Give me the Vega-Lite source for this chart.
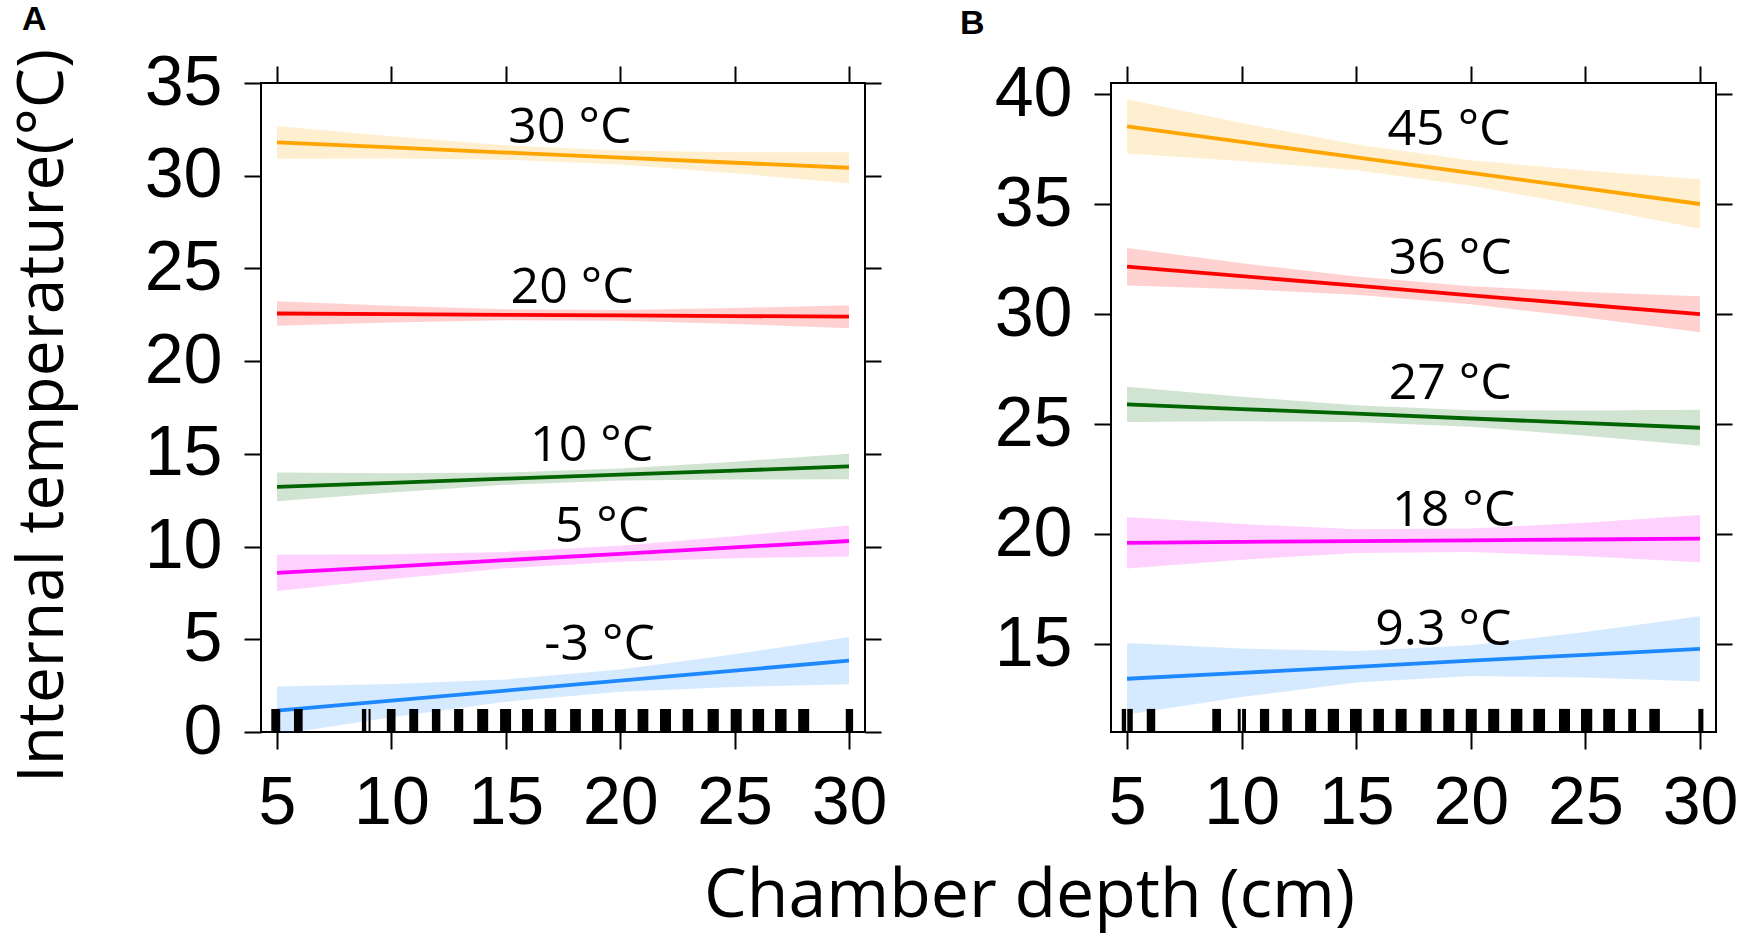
{
  "$schema": "https://vega.github.io/schema/vega-lite/v6.json",
  "autosize": {"type": "none"},
  "padding": {"left": 261, "top": 83, "right": 1480, "bottom": 858},
  "background": "white",
  "datasets": {
    "fits": [
      {"panel": "A", "series": "30 °C", "depth": 5, "fit": 31.80, "lo": 30.92, "hi": 32.68},
      {"panel": "A", "series": "30 °C", "depth": 10, "fit": 31.53, "lo": 30.93, "hi": 32.13},
      {"panel": "A", "series": "30 °C", "depth": 15, "fit": 31.25, "lo": 30.86, "hi": 31.64},
      {"panel": "A", "series": "30 °C", "depth": 20, "fit": 30.98, "lo": 30.60, "hi": 31.36},
      {"panel": "A", "series": "30 °C", "depth": 25, "fit": 30.70, "lo": 30.13, "hi": 31.27},
      {"panel": "A", "series": "30 °C", "depth": 30, "fit": 30.43, "lo": 29.60, "hi": 31.26},
      {"panel": "A", "series": "20 °C", "depth": 5, "fit": 22.57, "lo": 21.91, "hi": 23.23},
      {"panel": "A", "series": "20 °C", "depth": 10, "fit": 22.54, "lo": 22.09, "hi": 22.99},
      {"panel": "A", "series": "20 °C", "depth": 15, "fit": 22.50, "lo": 22.20, "hi": 22.80},
      {"panel": "A", "series": "20 °C", "depth": 20, "fit": 22.47, "lo": 22.18, "hi": 22.76},
      {"panel": "A", "series": "20 °C", "depth": 25, "fit": 22.43, "lo": 22.00, "hi": 22.86},
      {"panel": "A", "series": "20 °C", "depth": 30, "fit": 22.40, "lo": 21.78, "hi": 23.02},
      {"panel": "A", "series": "10 °C", "depth": 5, "fit": 13.22, "lo": 12.45, "hi": 13.99},
      {"panel": "A", "series": "10 °C", "depth": 10, "fit": 13.44, "lo": 12.92, "hi": 13.96},
      {"panel": "A", "series": "10 °C", "depth": 15, "fit": 13.66, "lo": 13.33, "hi": 13.99},
      {"panel": "A", "series": "10 °C", "depth": 20, "fit": 13.88, "lo": 13.56, "hi": 14.21},
      {"panel": "A", "series": "10 °C", "depth": 25, "fit": 14.10, "lo": 13.62, "hi": 14.58},
      {"panel": "A", "series": "10 °C", "depth": 30, "fit": 14.32, "lo": 13.63, "hi": 15.01},
      {"panel": "A", "series": "5 °C", "depth": 5, "fit": 8.58, "lo": 7.60, "hi": 9.56},
      {"panel": "A", "series": "5 °C", "depth": 10, "fit": 8.92, "lo": 8.25, "hi": 9.59},
      {"panel": "A", "series": "5 °C", "depth": 15, "fit": 9.27, "lo": 8.83, "hi": 9.71},
      {"panel": "A", "series": "5 °C", "depth": 20, "fit": 9.61, "lo": 9.18, "hi": 10.04},
      {"panel": "A", "series": "5 °C", "depth": 25, "fit": 9.96, "lo": 9.37, "hi": 10.55},
      {"panel": "A", "series": "5 °C", "depth": 30, "fit": 10.30, "lo": 9.47, "hi": 11.13},
      {"panel": "A", "series": "-3 °C", "depth": 5, "fit": 1.15, "lo": -0.15, "hi": 2.45},
      {"panel": "A", "series": "-3 °C", "depth": 10, "fit": 1.69, "lo": 0.79, "hi": 2.59},
      {"panel": "A", "series": "-3 °C", "depth": 15, "fit": 2.23, "lo": 1.63, "hi": 2.83},
      {"panel": "A", "series": "-3 °C", "depth": 20, "fit": 2.77, "lo": 2.17, "hi": 3.37},
      {"panel": "A", "series": "-3 °C", "depth": 25, "fit": 3.31, "lo": 2.43, "hi": 4.19},
      {"panel": "A", "series": "-3 °C", "depth": 30, "fit": 3.85, "lo": 2.58, "hi": 5.12},
      {"panel": "B", "series": "45 °C", "depth": 5, "fit": 38.53, "lo": 37.30, "hi": 39.76},
      {"panel": "B", "series": "45 °C", "depth": 10, "fit": 37.82, "lo": 36.96, "hi": 38.68},
      {"panel": "B", "series": "45 °C", "depth": 15, "fit": 37.12, "lo": 36.53, "hi": 37.71},
      {"panel": "B", "series": "45 °C", "depth": 20, "fit": 36.41, "lo": 35.83, "hi": 36.99},
      {"panel": "B", "series": "45 °C", "depth": 25, "fit": 35.71, "lo": 34.90, "hi": 36.52},
      {"panel": "B", "series": "45 °C", "depth": 30, "fit": 35.00, "lo": 33.87, "hi": 36.13},
      {"panel": "B", "series": "36 °C", "depth": 5, "fit": 32.15, "lo": 31.30, "hi": 33.00},
      {"panel": "B", "series": "36 °C", "depth": 10, "fit": 31.72, "lo": 31.13, "hi": 32.31},
      {"panel": "B", "series": "36 °C", "depth": 15, "fit": 31.29, "lo": 30.88, "hi": 31.70},
      {"panel": "B", "series": "36 °C", "depth": 20, "fit": 30.85, "lo": 30.44, "hi": 31.26},
      {"panel": "B", "series": "36 °C", "depth": 25, "fit": 30.42, "lo": 29.84, "hi": 31.00},
      {"panel": "B", "series": "36 °C", "depth": 30, "fit": 29.99, "lo": 29.17, "hi": 30.81},
      {"panel": "B", "series": "27 °C", "depth": 5, "fit": 25.89, "lo": 25.09, "hi": 26.69},
      {"panel": "B", "series": "27 °C", "depth": 10, "fit": 25.68, "lo": 25.12, "hi": 26.24},
      {"panel": "B", "series": "27 °C", "depth": 15, "fit": 25.47, "lo": 25.09, "hi": 25.85},
      {"panel": "B", "series": "27 °C", "depth": 20, "fit": 25.25, "lo": 24.87, "hi": 25.63},
      {"panel": "B", "series": "27 °C", "depth": 25, "fit": 25.04, "lo": 24.47, "hi": 25.61},
      {"panel": "B", "series": "27 °C", "depth": 30, "fit": 24.83, "lo": 24.01, "hi": 25.65},
      {"panel": "B", "series": "18 °C", "depth": 5, "fit": 19.60, "lo": 18.43, "hi": 20.77},
      {"panel": "B", "series": "18 °C", "depth": 10, "fit": 19.64, "lo": 18.83, "hi": 20.45},
      {"panel": "B", "series": "18 °C", "depth": 15, "fit": 19.68, "lo": 19.14, "hi": 20.22},
      {"panel": "B", "series": "18 °C", "depth": 20, "fit": 19.71, "lo": 19.18, "hi": 20.25},
      {"panel": "B", "series": "18 °C", "depth": 25, "fit": 19.75, "lo": 18.99, "hi": 20.51},
      {"panel": "B", "series": "18 °C", "depth": 30, "fit": 19.79, "lo": 18.72, "hi": 20.86},
      {"panel": "B", "series": "9.3 °C", "depth": 5, "fit": 13.42, "lo": 11.80, "hi": 15.04},
      {"panel": "B", "series": "9.3 °C", "depth": 10, "fit": 13.69, "lo": 12.59, "hi": 14.79},
      {"panel": "B", "series": "9.3 °C", "depth": 15, "fit": 13.96, "lo": 13.25, "hi": 14.68},
      {"panel": "B", "series": "9.3 °C", "depth": 20, "fit": 14.24, "lo": 13.54, "hi": 14.94},
      {"panel": "B", "series": "9.3 °C", "depth": 25, "fit": 14.51, "lo": 13.48, "hi": 15.54},
      {"panel": "B", "series": "9.3 °C", "depth": 30, "fit": 14.78, "lo": 13.30, "hi": 16.26}
    ],
    "rugs": [
      {"panel": "A", "from": 4.75, "to": 5.14},
      {"panel": "A", "from": 5.74, "to": 6.12},
      {"panel": "A", "from": 8.71, "to": 8.90},
      {"panel": "A", "from": 9.00, "to": 9.09},
      {"panel": "A", "from": 9.80, "to": 10.18},
      {"panel": "A", "from": 10.78, "to": 11.17},
      {"panel": "A", "from": 11.77, "to": 12.14},
      {"panel": "A", "from": 12.74, "to": 13.14},
      {"panel": "A", "from": 13.75, "to": 14.23},
      {"panel": "A", "from": 14.75, "to": 15.23},
      {"panel": "A", "from": 15.71, "to": 16.19},
      {"panel": "A", "from": 16.70, "to": 17.20},
      {"panel": "A", "from": 17.81, "to": 18.28},
      {"panel": "A", "from": 18.77, "to": 19.25},
      {"panel": "A", "from": 19.77, "to": 20.25},
      {"panel": "A", "from": 20.76, "to": 21.23},
      {"panel": "A", "from": 21.74, "to": 22.22},
      {"panel": "A", "from": 22.73, "to": 23.19},
      {"panel": "A", "from": 23.82, "to": 24.31},
      {"panel": "A", "from": 24.83, "to": 25.31},
      {"panel": "A", "from": 25.79, "to": 26.29},
      {"panel": "A", "from": 26.77, "to": 27.27},
      {"panel": "A", "from": 27.78, "to": 28.26},
      {"panel": "A", "from": 29.86, "to": 30.18},
      {"panel": "B", "from": 4.77, "to": 4.96},
      {"panel": "B", "from": 5.01, "to": 5.25},
      {"panel": "B", "from": 5.86, "to": 6.23},
      {"panel": "B", "from": 8.72, "to": 9.10},
      {"panel": "B", "from": 9.83, "to": 9.96},
      {"panel": "B", "from": 10.02, "to": 10.19},
      {"panel": "B", "from": 10.80, "to": 11.20},
      {"panel": "B", "from": 11.78, "to": 12.19},
      {"panel": "B", "from": 12.77, "to": 13.25},
      {"panel": "B", "from": 13.76, "to": 14.25},
      {"panel": "B", "from": 14.73, "to": 15.24},
      {"panel": "B", "from": 15.75, "to": 16.21},
      {"panel": "B", "from": 16.72, "to": 17.20},
      {"panel": "B", "from": 17.81, "to": 18.29},
      {"panel": "B", "from": 18.80, "to": 19.28},
      {"panel": "B", "from": 19.78, "to": 20.26},
      {"panel": "B", "from": 20.76, "to": 21.24},
      {"panel": "B", "from": 21.75, "to": 22.25},
      {"panel": "B", "from": 22.73, "to": 23.24},
      {"panel": "B", "from": 23.85, "to": 24.33},
      {"panel": "B", "from": 24.81, "to": 25.30},
      {"panel": "B", "from": 25.78, "to": 26.29},
      {"panel": "B", "from": 26.87, "to": 27.21},
      {"panel": "B", "from": 27.79, "to": 28.25},
      {"panel": "B", "from": 29.93, "to": 30.15}
    ],
    "labels": [
      {"panel": "A", "depth": 17.8, "temp": 31.75, "label": "30 °C"},
      {"panel": "A", "depth": 17.9, "temp": 23.13, "label": "20 °C"},
      {"panel": "A", "depth": 18.75, "temp": 14.59, "label": "10 °C"},
      {"panel": "A", "depth": 19.2, "temp": 10.23, "label": "5 °C"},
      {"panel": "A", "depth": 19.1, "temp": 3.87, "label": "-3 °C"},
      {"panel": "B", "depth": 19.05, "temp": 37.69, "label": "45 °C"},
      {"panel": "B", "depth": 19.1, "temp": 31.81, "label": "36 °C"},
      {"panel": "B", "depth": 19.1, "temp": 26.15, "label": "27 °C"},
      {"panel": "B", "depth": 19.25, "temp": 20.38, "label": "18 °C"},
      {"panel": "B", "depth": 18.8, "temp": 14.97, "label": "9.3 °C"}
    ]
  },
  "bounds": "flush",
  "spacing": 246,
  "resolve": {"scale": {"x": "independent", "y": "independent", "color": "independent"}},
  "hconcat": [
    {
      "width": 604,
      "height": 649,
      "title": {"text": "A", "anchor": "start", "frame": "group", "dx": -239, "dy": 34, "offset": 18, "baseline": "alphabetic",
        "font": "Liberation Sans", "fontSize": 34, "fontWeight": "bold", "color": "black"},
      "layer": [
        {
          "data": {"name": "fits"},
          "transform": [{"filter": "datum.panel === 'A'"}],
          "mark": {"type": "area", "opacity": 0.18, "clip": true},
          "encoding": {
            "x": {"field": "depth", "type": "quantitative", "scale": {"domain": [4.3, 30.7], "nice": false, "zero": false},
              "axis": {"orient": "bottom", "values": [5, 10, 15, 20, 25, 30], "labelFontSize": 68, "labelPadding": 20,
                "title": "Chamber depth (cm)", "titleFontSize": 68, "titleX": 768, "titleY": 184, "titleAlign": "center", "titleBaseline": "alphabetic"}},
            "y": {"field": "lo", "type": "quantitative", "scale": {"domain": [0, 35], "nice": false, "zero": false},
              "axis": {"orient": "left", "values": [0, 5, 10, 15, 20, 25, 30, 35], "labelFontSize": 70, "labelPadding": 22,
                "title": "Internal temperature(°C)", "titleFontSize": 64, "titleAngle": -90, "titleX": -199, "titleY": 332.5, "titleAlign": "center", "titleBaseline": "alphabetic"}},
            "y2": {"field": "hi"},
            "color": {"field": "series", "type": "nominal", "legend": null,
              "scale": {"domain": ["30 °C", "20 °C", "10 °C", "5 °C", "-3 °C"], "range": ["#FFA500", "#FF0000", "#006400", "#FF00FF", "#1E88FF"]}}
          }
        },
        {
          "data": {"name": "fits"},
          "transform": [{"filter": "datum.panel === 'A'"}],
          "mark": {"type": "line", "strokeWidth": 3.8, "clip": true},
          "encoding": {
            "x": {"field": "depth", "type": "quantitative", "scale": {"domain": [4.3, 30.7], "nice": false, "zero": false}, "axis": null},
            "y": {"field": "fit", "type": "quantitative", "scale": {"domain": [0, 35], "nice": false, "zero": false}, "axis": null},
            "color": {"field": "series", "type": "nominal", "legend": null,
              "scale": {"domain": ["30 °C", "20 °C", "10 °C", "5 °C", "-3 °C"], "range": ["#FFA500", "#FF0000", "#006400", "#FF00FF", "#1E88FF"]}}
          }
        },
        {
          "data": {"name": "rugs"},
          "transform": [{"filter": "datum.panel === 'A'"}],
          "mark": {"type": "rect", "color": "black"},
          "encoding": {
            "x": {"field": "from", "type": "quantitative", "scale": {"domain": [4.3, 30.7], "nice": false, "zero": false}, "axis": null},
            "x2": {"field": "to"},
            "y": {"datum": 0, "type": "quantitative", "scale": {"domain": [0, 35], "nice": false, "zero": false}, "axis": null},
            "y2": {"datum": 1.24}
          }
        },
        {
          "data": {"name": "labels"},
          "transform": [{"filter": "datum.panel === 'A'"}],
          "mark": {"type": "text", "font": "Open Sans", "fontSize": 50, "align": "center", "baseline": "alphabetic", "color": "black"},
          "encoding": {
            "x": {"field": "depth", "type": "quantitative", "scale": {"domain": [4.3, 30.7], "nice": false, "zero": false},
              "axis": {"orient": "top", "values": [5, 10, 15, 20, 25, 30], "labels": false, "title": null}},
            "y": {"field": "temp", "type": "quantitative", "scale": {"domain": [0, 35], "nice": false, "zero": false},
              "axis": {"orient": "right", "values": [0, 5, 10, 15, 20, 25, 30, 35], "labels": false, "title": null, "tickSize": 16}},
            "text": {"field": "label"}
          }
        }
      ],
      "resolve": {"axis": {"x": "independent", "y": "independent"}}
    },
    {
      "width": 605,
      "height": 649,
      "title": {"text": "B", "anchor": "start", "frame": "group", "dx": -151, "dy": 27, "offset": 18, "baseline": "alphabetic",
        "font": "Liberation Sans", "fontSize": 34, "fontWeight": "bold", "color": "black"},
      "layer": [
        {
          "data": {"name": "fits"},
          "transform": [{"filter": "datum.panel === 'B'"}],
          "mark": {"type": "area", "opacity": 0.18, "clip": true},
          "encoding": {
            "x": {"field": "depth", "type": "quantitative", "scale": {"domain": [4.3, 30.7], "nice": false, "zero": false},
              "axis": {"orient": "bottom", "values": [5, 10, 15, 20, 25, 30], "labelFontSize": 68, "labelPadding": 20, "title": null}},
            "y": {"field": "lo", "type": "quantitative", "scale": {"domain": [11, 40.5], "nice": false, "zero": false},
              "axis": {"orient": "left", "values": [15, 20, 25, 30, 35, 40], "labelFontSize": 70, "labelPadding": 22, "title": null}},
            "y2": {"field": "hi"},
            "color": {"field": "series", "type": "nominal", "legend": null,
              "scale": {"domain": ["45 °C", "36 °C", "27 °C", "18 °C", "9.3 °C"], "range": ["#FFA500", "#FF0000", "#006400", "#FF00FF", "#1E88FF"]}}
          }
        },
        {
          "data": {"name": "fits"},
          "transform": [{"filter": "datum.panel === 'B'"}],
          "mark": {"type": "line", "strokeWidth": 3.8, "clip": true},
          "encoding": {
            "x": {"field": "depth", "type": "quantitative", "scale": {"domain": [4.3, 30.7], "nice": false, "zero": false}, "axis": null},
            "y": {"field": "fit", "type": "quantitative", "scale": {"domain": [11, 40.5], "nice": false, "zero": false}, "axis": null},
            "color": {"field": "series", "type": "nominal", "legend": null,
              "scale": {"domain": ["45 °C", "36 °C", "27 °C", "18 °C", "9.3 °C"], "range": ["#FFA500", "#FF0000", "#006400", "#FF00FF", "#1E88FF"]}}
          }
        },
        {
          "data": {"name": "rugs"},
          "transform": [{"filter": "datum.panel === 'B'"}],
          "mark": {"type": "rect", "color": "black"},
          "encoding": {
            "x": {"field": "from", "type": "quantitative", "scale": {"domain": [4.3, 30.7], "nice": false, "zero": false}, "axis": null},
            "x2": {"field": "to"},
            "y": {"datum": 11, "type": "quantitative", "scale": {"domain": [11, 40.5], "nice": false, "zero": false}, "axis": null},
            "y2": {"datum": 12.05}
          }
        },
        {
          "data": {"name": "labels"},
          "transform": [{"filter": "datum.panel === 'B'"}],
          "mark": {"type": "text", "font": "Open Sans", "fontSize": 50, "align": "center", "baseline": "alphabetic", "color": "black"},
          "encoding": {
            "x": {"field": "depth", "type": "quantitative", "scale": {"domain": [4.3, 30.7], "nice": false, "zero": false},
              "axis": {"orient": "top", "values": [5, 10, 15, 20, 25, 30], "labels": false, "title": null}},
            "y": {"field": "temp", "type": "quantitative", "scale": {"domain": [11, 40.5], "nice": false, "zero": false},
              "axis": {"orient": "right", "values": [15, 20, 25, 30, 35, 40], "labels": false, "title": null, "tickSize": 16}},
            "text": {"field": "label"}
          }
        }
      ],
      "resolve": {"axis": {"x": "independent", "y": "independent"}}
    }
  ],
  "config": {
    "view": {"stroke": "black", "strokeWidth": 2},
    "axis": {
      "domain": false, "grid": false, "ticks": true, "tickColor": "black", "tickWidth": 2, "tickSize": 17,
      "labelColor": "black", "labelFont": "Liberation Sans", "labelOverlap": false, "labelBound": false, "labelFlush": false,
      "titleFont": "Open Sans", "titleFontWeight": "normal", "titleColor": "black"
    },
    "title": {"font": "Liberation Sans", "fontSize": 34, "fontWeight": "bold", "color": "black"},
    "style": {
      "group-title": {"font": "Liberation Sans", "fontSize": 34, "fontWeight": "bold", "fill": "black"}
    }
  }
}
